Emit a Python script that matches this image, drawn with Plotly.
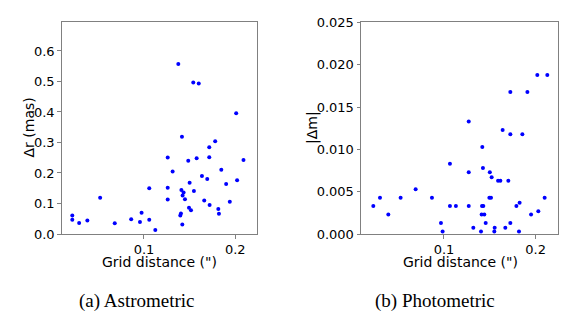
"""Grid distance vs astrometric / photometric error scatter plots."""

import plotly.graph_objects as go

# (a) Astrometric: grid distance (") vs Δr (mas)
astro_dist = [
    0.0215, 0.0215, 0.029, 0.038, 0.052, 0.068, 0.086, 0.0956, 0.0974, 0.1058,
    0.1058, 0.1124, 0.126, 0.126, 0.126, 0.1314, 0.1376, 0.1416, 0.141, 0.1434,
    0.1423, 0.1449, 0.1405, 0.1398, 0.142, 0.1485, 0.150, 0.1547, 0.1493, 0.1515,
    0.154, 0.160, 0.1577, 0.1635, 0.166, 0.1693, 0.1715, 0.1715, 0.1719, 0.178,
    0.1847, 0.1814, 0.1821, 0.190, 0.194, 0.201, 0.202, 0.209,
]
astro_dr = [
    0.061, 0.047, 0.036, 0.044, 0.119, 0.035, 0.048, 0.039, 0.070, 0.150,
    0.047, 0.013, 0.251, 0.152, 0.113, 0.205, 0.557, 0.319, 0.144, 0.136,
    0.126, 0.114, 0.067, 0.061, 0.031, 0.240, 0.168, 0.141, 0.086, 0.078,
    0.497, 0.493, 0.248, 0.190, 0.110, 0.180, 0.284, 0.252, 0.095, 0.304,
    0.211, 0.082, 0.066, 0.164, 0.106, 0.396, 0.176, 0.243,
]

# (b) Photometric: grid distance (") vs |Δm|
photo_dist = [
    0.0229, 0.0302, 0.0393, 0.0527, 0.0691, 0.0869, 0.0967, 0.0985, 0.1065, 0.1065,
    0.113, 0.127, 0.127, 0.127, 0.132, 0.1418, 0.1425, 0.1415, 0.1429, 0.1411,
    0.144, 0.1455, 0.1404, 0.150, 0.152, 0.1495, 0.1513, 0.1553, 0.1549, 0.159,
    0.1615, 0.164, 0.1669, 0.1702, 0.1724, 0.1724, 0.1724, 0.179, 0.1825, 0.1818,
    0.1855, 0.191, 0.195, 0.2018, 0.2029, 0.2098, 0.2127,
]
photo_dm = [
    0.0033, 0.0043, 0.0023, 0.0043, 0.0053, 0.0043, 0.0013, 0.0003, 0.0083, 0.0033,
    0.0033, 0.0133, 0.0073, 0.0033, 0.00075, 0.0103, 0.0078, 0.0033, 0.0033, 0.0023,
    0.0023, 0.0013, 0.0003, 0.0073, 0.0067, 0.0043, 0.0043, 0.00075, 0.0003, 0.0063,
    0.0063, 0.0123, 0.00075, 0.0063, 0.0168, 0.0118, 0.0013, 0.0033, 0.0037, 0.0003,
    0.0118, 0.0168, 0.0023, 0.0188, 0.0027, 0.0043, 0.0188,
]

astro_yticks = [0.0, 0.1, 0.2, 0.3, 0.4, 0.5, 0.6]
photo_yticks = [0.000, 0.005, 0.010, 0.015, 0.020, 0.025]
xticks = [0.1, 0.2]

# page body has an 8px default margin, so the figure is 8px smaller
_OFF = 8
_W, _H = 581 - _OFF, 330 - _OFF


def px(x):
    """Window pixel x -> paper x."""
    return (x - _OFF) / _W


def py(y):
    """Window pixel y (from top) -> paper y."""
    return (330 - y) / _H


_FONT = dict(family="DejaVu Sans, sans-serif", size=13, color="black")
_SERIF = dict(family="Liberation Serif, Times New Roman, serif", size=19, color="black")
_SPINE = "#808080"

_AXIS = dict(
    showline=True, linecolor=_SPINE, linewidth=1, mirror=True,
    ticks="outside", ticklen=3.5, tickcolor=_SPINE, tickwidth=1,
    showgrid=False, zeroline=False, tickfont=_FONT, automargin=False,
)

fig = go.Figure()
fig.add_trace(go.Scatter(
    x=astro_dist, y=astro_dr, mode="markers", xaxis="x", yaxis="y",
    marker=dict(color="#0000ff", size=4, line=dict(width=0)),
))
fig.add_trace(go.Scatter(
    x=photo_dist, y=photo_dm, mode="markers", xaxis="x2", yaxis="y2",
    marker=dict(color="#0000ff", size=4, line=dict(width=0)),
))

fig.update_layout(
    width=_W, height=_H,
    margin=dict(l=0, r=0, t=0, b=0, autoexpand=False),
    paper_bgcolor="white", plot_bgcolor="white",
    showlegend=False, font=_FONT,
    xaxis=dict(domain=[px(61.7), px(257)], range=[0.0099, 0.2238],
               tickvals=xticks, ticktext=["0.1", "0.2"], anchor="y", **_AXIS),
    yaxis=dict(domain=[py(234), py(21.7)], range=[0, 0.696],
               tickvals=astro_yticks, tickformat=".1f", anchor="x", **_AXIS),
    xaxis2=dict(domain=[px(361), px(558.3)], range=[0.0095, 0.2247],
                tickvals=xticks, ticktext=["0.1", "0.2"], anchor="y2", **_AXIS),
    yaxis2=dict(domain=[py(234), py(21.7)], range=[0, 0.0251],
                tickvals=photo_yticks, tickformat=".3f", anchor="x2", **_AXIS),
)

label_font = dict(_FONT, size=14)
labels = [
    (159, 262, "Grid distance (\")", 0),
    (460, 262, "Grid distance (\")", 0),
    (29, 127.5, "Δr (mas)", -90),
    (312, 128, "|Δm|", -90),
]
for x, y, text, angle in labels:
    fig.add_annotation(x=px(x), y=py(y), xref="paper", yref="paper", text=text,
                       textangle=angle, showarrow=False, font=label_font,
                       xanchor="center", yanchor="middle", borderpad=0)

for x, text in [(136.7, "(a) Astrometric"), (435, "(b) Photometric")]:
    fig.add_annotation(x=px(x), y=py(300.7), xref="paper", yref="paper",
                       text=text, showarrow=False, font=_SERIF,
                       xanchor="center", yanchor="middle")

fig.write_html("out.html")
